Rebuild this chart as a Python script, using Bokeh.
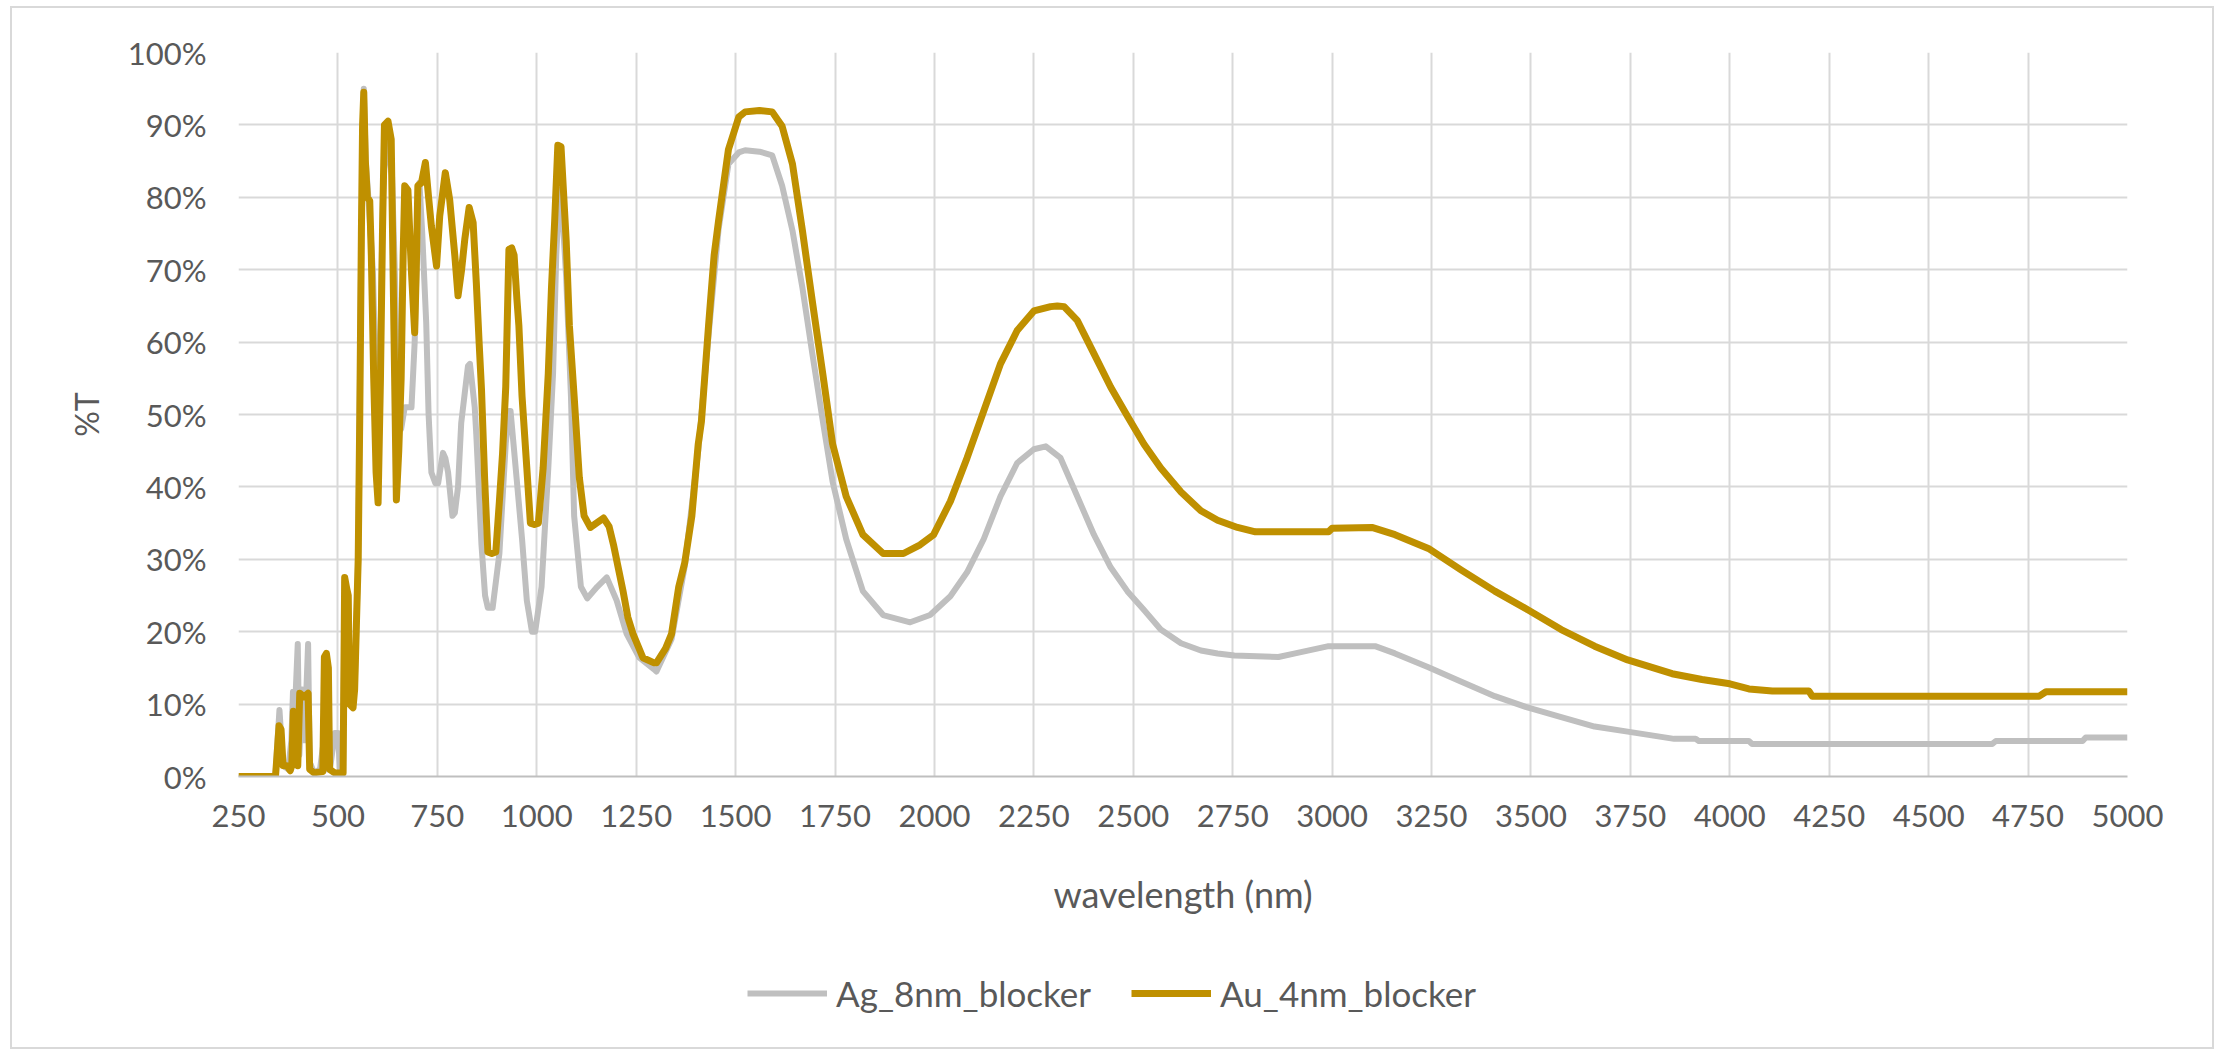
from bokeh.plotting import figure
from bokeh.layouts import column
from bokeh.models import (Range1d, FixedTicker, PrintfTickFormatter, Legend, LegendItem)
from bokeh.embed import file_html
from bokeh.resources import INLINE

# ---------------- data ----------------
series_names = ["Ag_8nm_blocker", "Au_4nm_blocker"]

ag_nm = [250, 343, 347, 353, 358, 362, 375, 383, 387, 391, 399, 403, 410, 416, 425, 429,
         440, 455, 462, 466, 470, 480, 492, 500, 505, 513, 517, 522, 529, 542, 551, 559,
         565, 570, 578, 588, 595, 601, 607, 613, 620, 628, 636, 643, 650, 659, 668, 676,
         685, 693, 701, 705, 712, 722, 728, 735, 745, 752, 764, 770, 777, 788, 794, 802,
         810, 819, 827, 832, 844, 848, 861, 870, 877, 889, 906, 922, 930, 934, 947, 963,
         975, 988, 996, 1012, 1029, 1041, 1049, 1057, 1061, 1074, 1086, 1094, 1111, 1127,
         1152, 1176, 1201, 1226, 1258, 1295, 1301, 1339, 1372, 1406, 1432, 1457, 1482,
         1508, 1524, 1560, 1592, 1617, 1643, 1668, 1693, 1719, 1744, 1778, 1820, 1871,
         1939, 1989, 2040, 2082, 2124, 2166, 2208, 2250, 2280, 2317, 2359, 2401, 2443,
         2485, 2527, 2569, 2620, 2670, 2712, 2754, 2865, 2907, 2991, 3108, 3158, 3242,
         3325, 3409, 3493, 3576, 3660, 3743, 3860, 3914, 3922, 4048, 4056, 4660, 4669,
         4887, 4895, 5000]
ag_T = [0, 0, 4, 9.2, 5, 1.5, 1, 5, 11.7, 8, 18.3, 3, 12, 5, 18.3, 2,
        0.5, 1, 4, 3, 1, 1, 6, 6, 1, 0.5, 27, 26, 10, 12, 30, 75,
        95, 85, 78.8, 69.6, 55, 48, 60, 80, 88, 86, 83, 70, 52, 48, 51, 51,
        51, 60, 78, 82, 75, 62.7, 50, 42, 40.5, 40.5, 44.7, 44, 42, 36, 36.4, 40,
        48.8, 53, 56.7, 57, 51, 47.2, 32, 25, 23.3, 23.3, 30.8, 46, 50.5, 50.5, 42.6, 32.8,
        24.3, 20, 20, 26.2, 42.6, 55.7, 72, 81, 81, 68.9, 52.5, 36, 26.2, 24.6,
        26.2, 27.5, 24.3, 19.7, 16.4, 14.8, 14.5, 19, 29, 45, 61, 75.5, 84.6,
        86.2, 86.5, 86.3, 85.8, 81.6, 75.4, 67.5, 58.4, 49.2, 40.7, 32.8, 25.6, 22.3,
        21.3, 22.3, 24.9, 28.2, 32.8, 38.7, 43.3, 45.2, 45.6, 44, 38.7, 33.4, 28.9,
        25.6, 23, 20.3, 18.4, 17.4, 17, 16.7, 16.5, 17, 18, 18, 17, 15.1,
        13.1, 11.1, 9.5, 8.2, 6.9, 6.2, 5.2, 5.2, 4.9, 4.9, 4.5, 4.5, 4.9,
        4.9, 5.4, 5.4]

au_nm = [250, 343, 347, 352, 357, 362, 372, 380, 384, 388, 395, 399, 404, 415, 425, 429,
         440, 462, 466, 471, 476, 479, 492, 513, 517, 522, 526, 529, 538, 542, 546, 551,
         555, 559, 562, 565, 569, 574, 580, 584, 590, 596, 601, 607, 612, 617, 626, 634,
         640, 647, 653, 659, 664, 668, 676, 685, 693, 697, 701, 710, 720, 728, 735, 748,
         756, 770, 781, 794, 802, 811, 819, 830, 840, 848, 855, 861, 869, 877, 887, 897,
         906, 914, 922, 930, 937, 943, 950, 955, 963, 975, 984, 994, 1004, 1016, 1029,
         1037, 1045, 1053, 1061, 1068, 1074, 1082, 1094, 1107, 1119, 1135, 1150, 1168,
         1182, 1193, 1205, 1217, 1229, 1242, 1267, 1295, 1301, 1324, 1339, 1357, 1372,
         1390, 1406, 1414, 1432, 1446, 1457, 1482, 1508, 1524, 1560, 1592, 1617, 1643,
         1668, 1693, 1719, 1744, 1778, 1820, 1871, 1922, 1964, 1998, 2040, 2082, 2124,
         2166, 2208, 2250, 2292, 2309, 2326, 2359, 2401, 2443, 2485, 2527, 2569, 2620,
         2670, 2712, 2762, 2807, 2991, 3000, 3100, 3158, 3242, 3325, 3409, 3493, 3576,
         3660, 3743, 3855, 3930, 4000, 4048, 4107, 4199, 4207, 4778, 4795, 5000]
au_T = [0, 0, 3, 7, 6.5, 1.5, 1.5, 0.8, 1.5, 9, 8.5, 1.5, 11.5, 11, 11.5, 1,
        0.5, 0.7, 16.5, 17, 15, 1, 0.5, 0.5, 27.5, 26, 25, 10, 9.5, 12, 20, 30,
        50, 75, 90, 94.5, 85, 80, 79.5, 72, 55, 42, 37.8, 55, 75, 90, 90.5, 88,
        65, 38.2, 45, 55, 72, 81.6, 81, 69.6, 61.3, 70, 81.6, 82, 84.8, 80, 76, 70.5,
        77.4, 83.4, 79.7, 71.9, 66.4, 70, 74.2, 78.6, 76.5, 68.2, 60, 53.5, 41, 31, 30.8, 31,
        38, 44.6, 53.8, 72.8, 73, 72, 66, 62.3, 52.5, 42.6, 35, 34.8, 35, 42.6, 55.7,
        67.5, 76.7, 87.2, 87, 80, 74, 62.3, 52.5, 41.3, 36, 34.4, 35, 35.7,
        34.5, 32, 28.8, 25.6, 22, 19.7, 16.4, 15.7, 15.7, 17.7, 19.7, 26.2, 29.5,
        36, 45.9, 49, 62.3, 72, 76.7, 86.6, 91.1, 91.8, 92, 91.8, 89.8, 84.6,
        75.4, 65.6, 55.7, 45.9, 38.7, 33.4, 30.8, 30.8, 32, 33.4, 38, 44, 50.5,
        57, 61.6, 64.3, 64.9, 65, 64.9, 63, 58.4, 53.8, 49.8, 45.9, 42.6, 39.3,
        36.7, 35.4, 34.4, 33.8, 33.8, 34.3, 34.4, 33.4, 31.5, 28.5, 25.6, 23, 20.3,
        18, 16.1, 14.2, 13.4, 12.8, 12.1, 11.8, 11.8, 11.1, 11.1, 11.7, 11.7]

x_ticks = list(range(250, 5001, 250))
y_ticks = list(range(0, 101, 10))
x_title = "wavelength (nm)"
y_title = "%T"

# ---------------- styling ----------------
FONT = "Lato"
TXT = "#595959"
GRID = "#D9D9D9"
AG_COLOR = "#BFBFBF"
AU_COLOR = "#BF9000"
AG_W = 6
AU_W = 7

p = figure(width=2219, height=940, output_backend="svg", toolbar_location=None,
           x_range=Range1d(250, 5000), y_range=Range1d(0, 100),
           min_border_left=238, min_border_right=92, min_border_top=52, min_border_bottom=164)
p.outline_line_color = None
p.background_fill_color = "white"
p.border_fill_color = "white"

r_ag = p.line(ag_nm, ag_T, line_color=AG_COLOR, line_width=AG_W, line_join="round")
r_au = p.line(au_nm, au_T, line_color=AU_COLOR, line_width=AU_W, line_join="round")

# axes
xa = p.xaxis[0]
xa.ticker = FixedTicker(ticks=x_ticks)
xa.axis_line_color = "#BFBFBF"
xa.axis_line_width = 2
xa.major_tick_line_color = None
xa.minor_tick_line_color = None
xa.major_tick_out = 0
xa.major_tick_in = 0
xa.major_label_standoff = 28
xa.major_label_text_font = FONT
xa.major_label_text_font_size = "31px"
xa.major_label_text_color = TXT
xa.axis_label = x_title
xa.axis_label_standoff = 42
xa.axis_label_text_font = FONT
xa.axis_label_text_font_size = "36px"
xa.axis_label_text_font_style = "normal"
xa.axis_label_text_color = TXT

ya = p.yaxis[0]
ya.ticker = FixedTicker(ticks=y_ticks)
ya.formatter = PrintfTickFormatter(format="%d%%")
ya.axis_line_color = None
ya.major_tick_line_color = None
ya.minor_tick_line_color = None
ya.major_tick_out = 0
ya.major_tick_in = 0
ya.major_label_standoff = 32
ya.major_label_text_font = FONT
ya.major_label_text_font_size = "31px"
ya.major_label_text_color = TXT
ya.axis_label = y_title
ya.axis_label_standoff = 19
ya.axis_label_text_font = FONT
ya.axis_label_text_font_size = "32px"
ya.axis_label_text_font_style = "normal"
ya.axis_label_text_color = TXT

p.xgrid[0].ticker = FixedTicker(ticks=x_ticks)
p.ygrid[0].ticker = FixedTicker(ticks=y_ticks)
p.xgrid.grid_line_color = GRID
p.ygrid.grid_line_color = GRID
p.xgrid.grid_line_width = 2
p.ygrid.grid_line_width = 2

# ---------------- legend strip under the chart ----------------
# the key lines reuse the series data on a range where they fall outside the strip,
# so only the legend's own sample lines are visible
lg = figure(width=2219, height=109, output_backend="svg", toolbar_location=None,
            x_range=Range1d(-2, -1), y_range=Range1d(0, 1),
            min_border=0, min_border_left=0, min_border_right=0,
            min_border_top=0, min_border_bottom=0)
lg.axis.visible = False
lg.grid.visible = False
lg.outline_line_color = None
lg.background_fill_color = "white"
lg.border_fill_color = "white"
k_ag = lg.line(ag_nm, ag_T, line_color=AG_COLOR, line_width=AG_W)
k_au = lg.line(au_nm, au_T, line_color=AU_COLOR, line_width=AU_W)

legend = Legend(items=[LegendItem(label=series_names[0], renderers=[k_ag]),
                       LegendItem(label=series_names[1], renderers=[k_au])],
                orientation="horizontal", location=(509, 35),
                border_line_color=None, background_fill_alpha=0,
                glyph_width=80, glyph_height=38, label_standoff=9, spacing=40,
                label_text_font=FONT, label_text_font_size="35px",
                label_text_color=TXT, padding=0, margin=0)
lg.add_layout(legend, "center")

layout = column(p, lg, spacing=0)

html = file_html(layout, INLINE)
border_css = ("<style>body{margin:0}body::after{content:'';position:fixed;left:10px;top:6px;"
              "width:2200px;height:1039px;border:2px solid #D9D9D9;pointer-events:none;}</style>")
html = html.replace("</head>", border_css + "</head>", 1)
open("out.html", "w").write(html)
